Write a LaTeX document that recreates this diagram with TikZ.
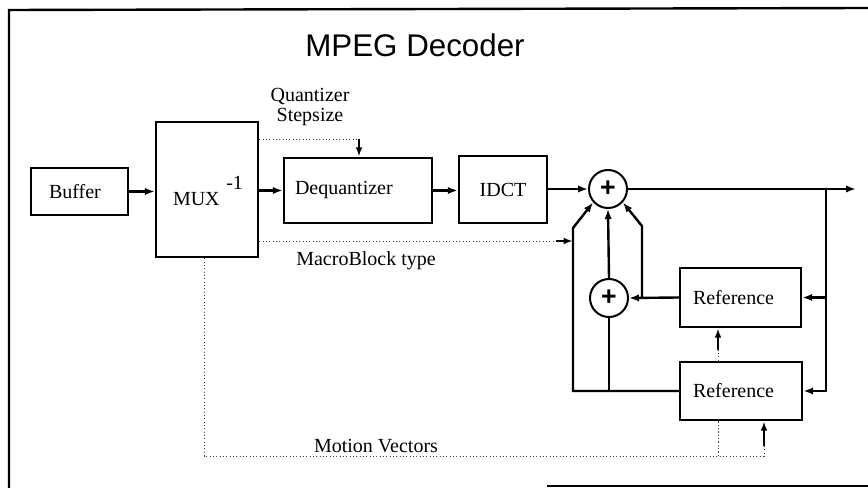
\documentclass[tikz,border=0pt]{standalone}
\usepackage{fontspec}
\setmainfont{Liberation Serif}
\newfontfamily\titlefont{Liberation Sans}
\usetikzlibrary{arrows.meta,calc}
\begin{document}
\begin{tikzpicture}[x=0.75pt,y=-0.75pt,
  lbl/.style={font=\fontsize{15}{15}\selectfont, inner sep=0pt},
  box/.style={draw, line width=1.8pt, lbl},
  sumnode/.style={draw, circle, line width=1.5pt, minimum size=28.5pt, inner sep=0pt,
    font=\titlefont\bfseries\fontsize{20}{20}\selectfont},
  conn/.style={line width=1.8pt},
  arr/.style={conn, -{Latex[length=7.5pt,width=5.5pt]}},
  arrthin/.style={line width=1.4pt, -{Latex[length=7pt,width=5pt]}},
  ctl/.style={line width=0.7pt, black!75, dash pattern=on 0.9pt off 1.6pt},
  framestyle/.style={line width=1.8pt}]
\useasboundingbox (0,0) rectangle (868,488);

% frame
\draw[framestyle] (9,488) -- (9,10) -- (868,8);
\draw[framestyle] (547,486) -- (868,486);

% title
\node[font=\titlefont\fontsize{23.5}{23.5}\selectfont, inner sep=0pt] (title) at (415,45) {MPEG Decoder};

% blocks
\node[box, minimum width=72.75pt, minimum height=35.25pt, text width=45.75pt, inner xsep=13.5pt, align=left] (buffer) at (79.5,191.5) {Buffer};
\node[box, minimum width=76.5pt, minimum height=101.25pt] (mux) at (207,189.5) {};
\node[lbl] (muxtext) at (208,191) {MUX\hspace{5pt}\raisebox{12pt}{-1}};
\node[box, minimum width=111pt, minimum height=48.75pt, text width=94.5pt, inner xsep=8.25pt, align=left] (deq) at (358,190.5) {Dequantizer};
\node[box, minimum width=66pt, minimum height=50.25pt] (idct) at (503,189.5) {IDCT};
\node[sumnode] (sum1) at (608,189) {+};
\node[sumnode] (sum2) at (609,298) {+};
\node[box, minimum width=90.75pt, minimum height=44.25pt, text width=71.25pt, inner xsep=9.75pt, align=left] (ref1) at (740.5,297.5) {Reference};
\node[box, minimum width=91.5pt, minimum height=43.5pt, text width=72pt, inner xsep=9.75pt, align=left] (ref2) at (741,391) {Reference};

% labels
\node[lbl, align=center] (qs) at (310,107) {Quantizer\\Stepsize};
\node[lbl] (mbt) at (366,261) {MacroBlock type};
\node[lbl] (mvt) at (376,446) {Motion Vectors};

% coordinates
\coordinate (out) at (856,189);
\coordinate (rv) at (826,189);
\coordinate (lv) at (573,228);
\coordinate (rv2) at (642,226);
\coordinate (q) at (359,139);
\coordinate (mb) at (556,241);
\coordinate (mv) at (204,456);
\coordinate (mvr) at (764,456);
\coordinate (a2) at (764,446);
\coordinate (mv1) at (718,456);
\coordinate (a1) at (718,350);

% main data path
\draw[arr] (buffer.east) -- (buffer.east -| mux.west);
\draw[arr] (mux.east |- deq.west) -- (deq.west);
\draw[arr] (deq.east) -- (deq.east -| idct.west);
\draw[arr] (idct.east |- sum1.west) -- (sum1.west);
\draw[arr] (sum1.east) -- (out);

% feedback to references
\draw[arr] (rv) -- (rv |- ref2.east) -- (ref2.east);
\draw[arr] (rv |- ref1.east) -- (ref1.east);

% prediction paths
\draw[arr] (ref2.west) -- (ref2.west -| lv) -- (lv) -- (sum1.222);
\draw[arr] (sum2.north) -- (sum1.south);
\draw[conn] (sum2.south) -- (sum2.south |- ref2.west);
\draw[arr] (ref1.west) -- (sum2.east);
\draw[arr] (ref1.west -| rv2) -- (rv2) -- (sum1.318);

% control signals
\draw[ctl] (mux.east |- q) -- (q);
\draw[arrthin] (q) -- (q |- deq.north);
\draw[ctl] (mux.east |- mb) -- (mb);
\draw[arrthin] (mb) -- (mb -| lv);
\draw[ctl] (mux.south -| mv) -- (mv) -- (mvr) -- (a2);
\draw[arrthin] (a2) -- (a2 |- ref2.south);
\draw[ctl] (mv1) -- (mv1 |- ref2.south);
\draw[ctl] (a1 |- ref2.north) -- (a1);
\draw[arrthin] (a1) -- (a1 |- ref1.south);
\end{tikzpicture}
\end{document}
